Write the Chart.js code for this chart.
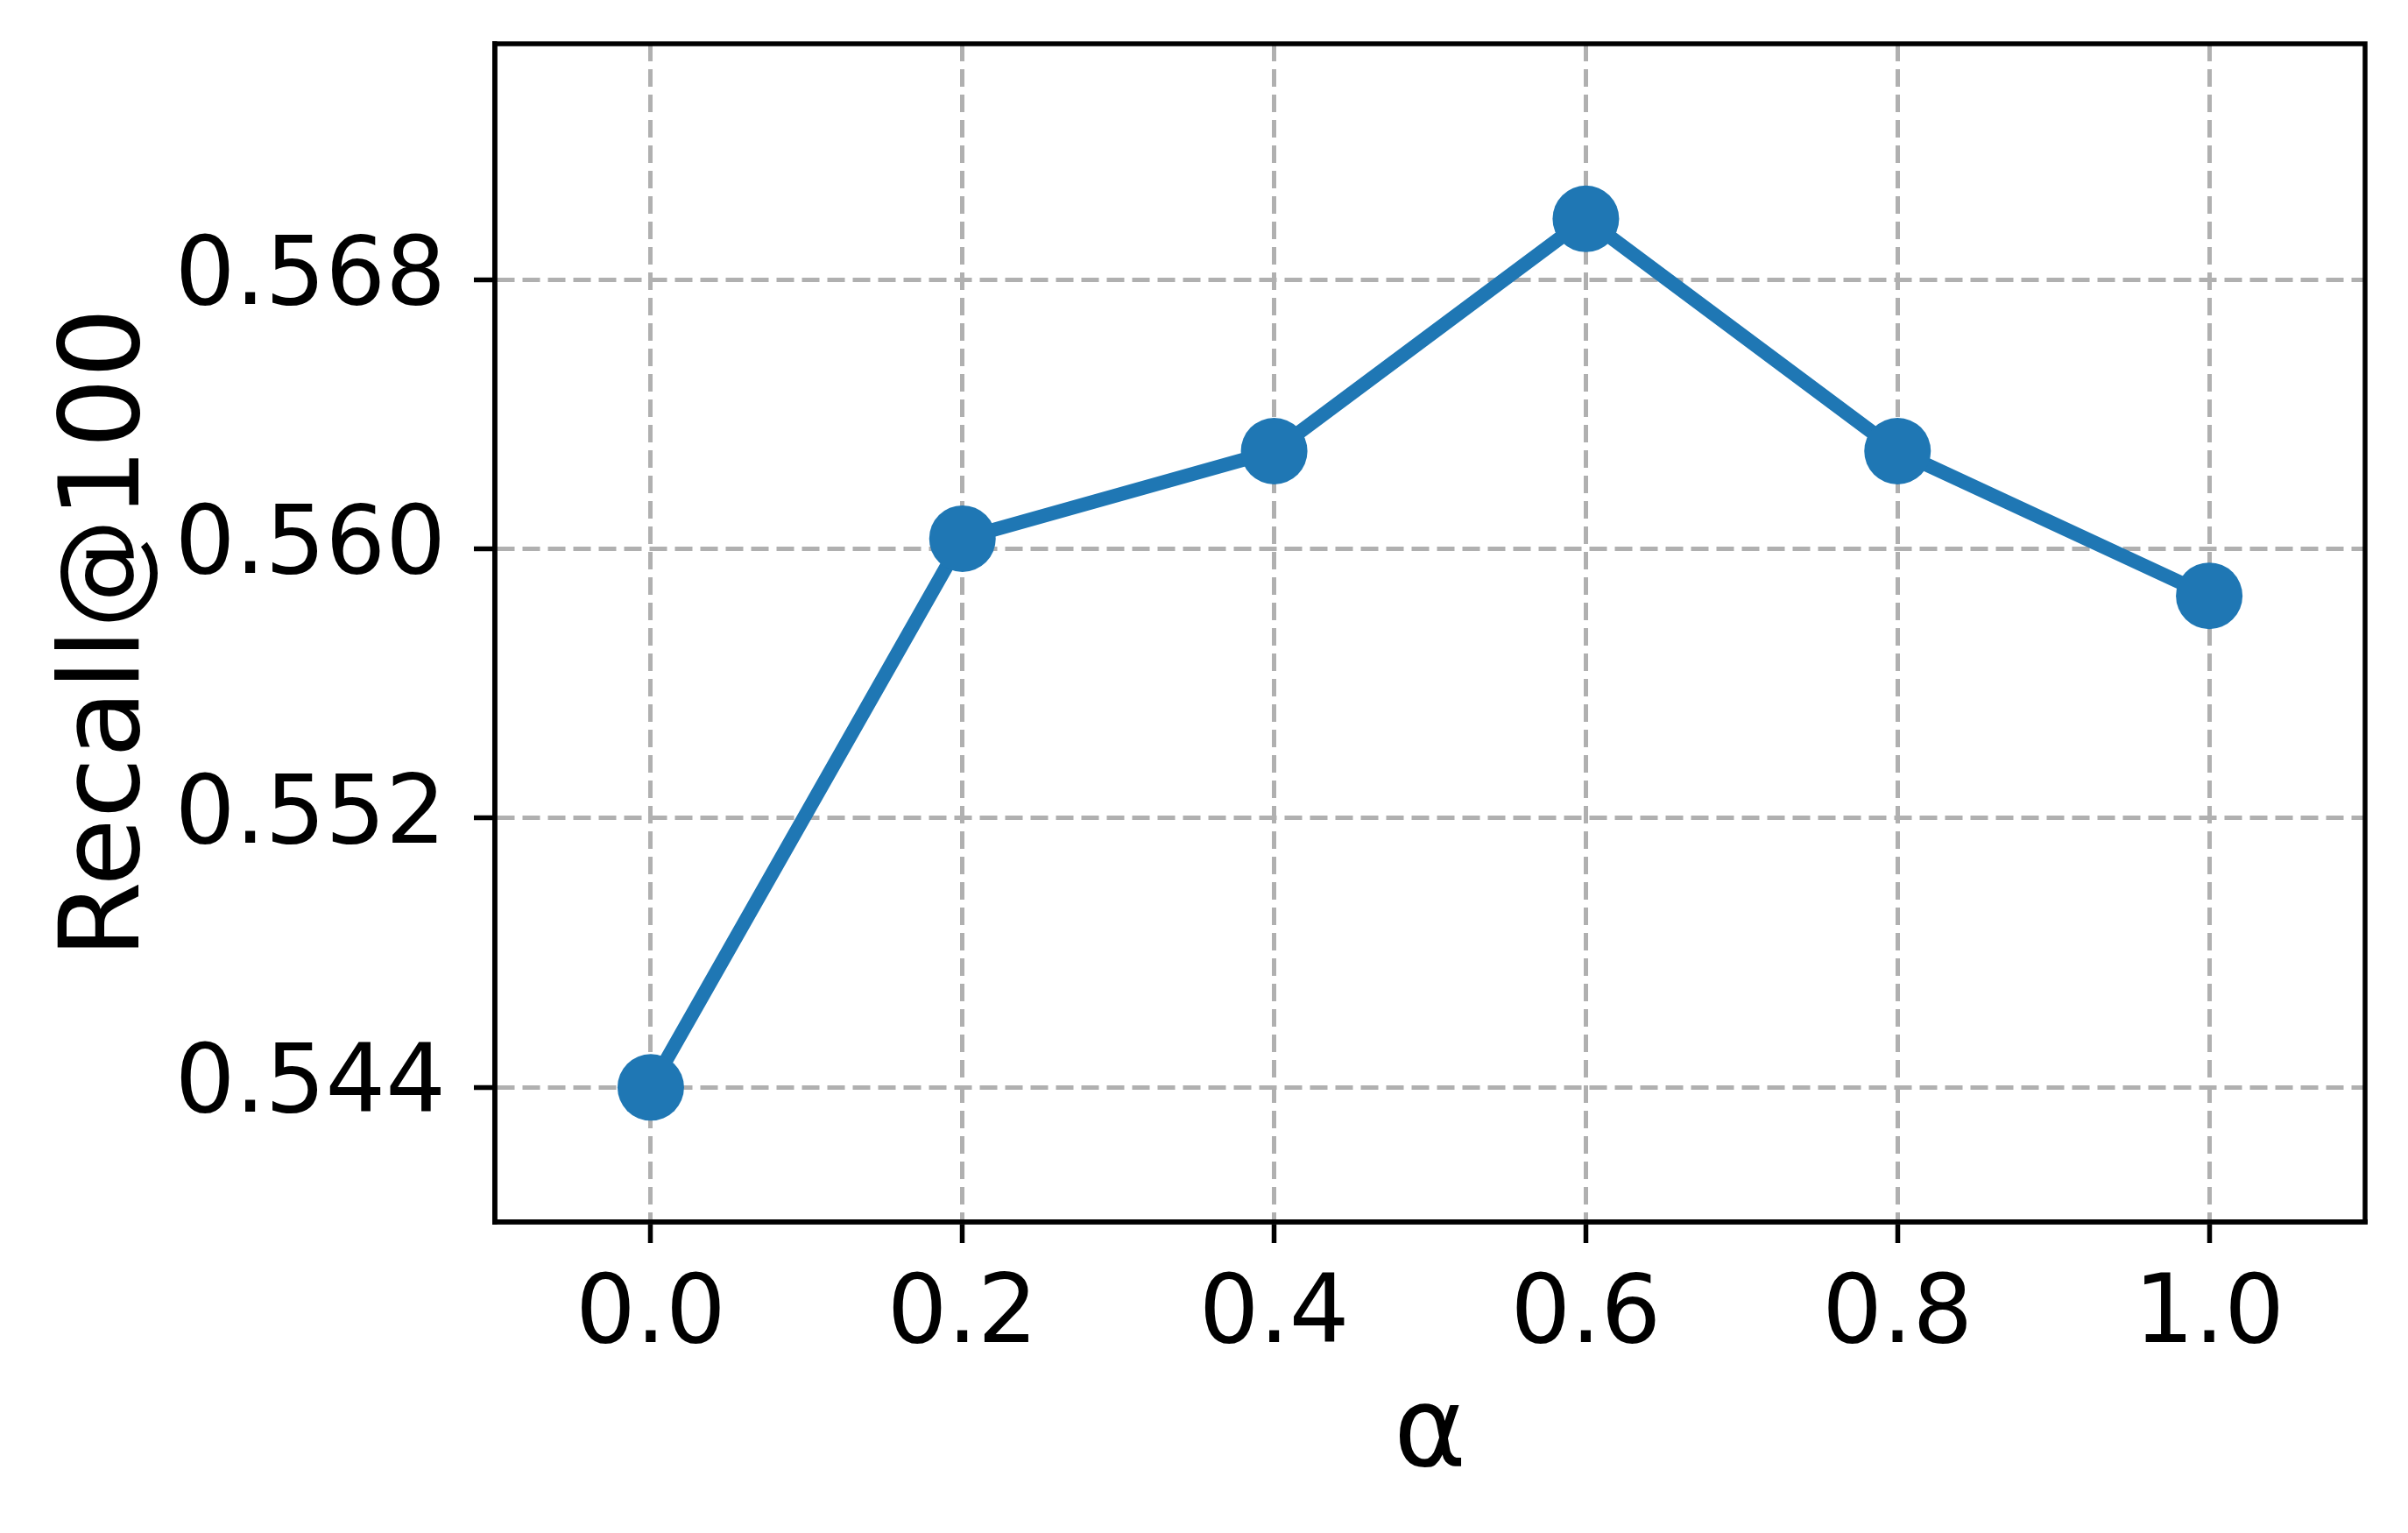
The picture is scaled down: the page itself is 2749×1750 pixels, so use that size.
<!DOCTYPE html>
<html>
<head>
<meta charset="utf-8">
<script src="https://cdn.jsdelivr.net/npm/chart.js@4/dist/chart.umd.min.js"></script>
<style>
  html, body { margin: 0; padding: 0; background: #fff; }
  #wrap { width: 2749px; height: 1750px; }
</style>
</head>
<body>
<div id="wrap"><canvas id="js-lineChart" width="2749" height="1750"></canvas></div>
<script>
const alphaValues = [0.0, 0.2, 0.4, 0.6, 0.8, 1.0];
const recallValues = [0.5440, 0.5603, 0.5629, 0.5698, 0.5629, 0.5586];
const xTicks = [0.0, 0.2, 0.4, 0.6, 0.8, 1.0];
const yTicks = [0.544, 0.552, 0.560, 0.568];

const lineColor = '#1f77b4';
const gridColor = '#b0b0b0';
const fontFamily = '"DejaVu Sans", sans-serif';

// top and right spines, matplotlib style box
const framePlugin = {
    id: 'frame',
    afterDraw(chart) {
        const { ctx, chartArea } = chart;
        ctx.save();
        ctx.strokeStyle = '#000';
        ctx.lineWidth = 5.5;
        ctx.strokeRect(chartArea.left, chartArea.top, chartArea.right - chartArea.left, chartArea.bottom - chartArea.top);
        ctx.restore();
    }
};

const gridOptions = {
    color: gridColor,
    lineWidth: 5,
    tickLength: 24,
    tickColor: '#000',
    tickWidth: 5.5,
    tickBorderDash: []
};

const borderOptions = { color: '#000', width: 5.5, dash: [20, 9] };

const chartConfig = {
    type: 'line',
    data: {
        datasets: [{
            data: alphaValues.map((a, i) => ({ x: a, y: recallValues[i] })),
            borderColor: lineColor,
            backgroundColor: lineColor,
            borderWidth: 16,
            pointRadius: 38,
            pointHoverRadius: 38,
            pointBorderWidth: 0,
            tension: 0
        }]
    },
    options: {
        responsive: false,
        animation: false,
        devicePixelRatio: 1,
        layout: { padding: { top: 50, right: 49, left: 0, bottom: 0 } },
        plugins: { legend: { display: false }, tooltip: { enabled: false } },
        scales: {
            x: {
                type: 'linear',
                min: -0.1,
                max: 1.1,
                grid: gridOptions,
                border: borderOptions,
                ticks: {
                    color: '#000',
                    padding: 20,
                    font: { family: fontFamily, size: 108 },
                    callback: v => v.toFixed(1)
                },
                title: {
                    display: true,
                    text: 'α',
                    color: '#000',
                    font: { family: fontFamily, size: 126 },
                    padding: { top: 0, bottom: 34 }
                },
                afterBuildTicks: s => { s.ticks = xTicks.map(v => ({ value: v })); },
                afterFit: s => {
                    s.height = 355;
                    s.paddingLeft = 0;
                    s.paddingRight = 0;
                }
            },
            y: {
                type: 'linear',
                min: 0.540,
                max: 0.575,
                grid: gridOptions,
                border: borderOptions,
                ticks: {
                    color: '#000',
                    padding: 32,
                    font: { family: fontFamily, size: 108 },
                    callback: v => v.toFixed(3)
                },
                title: {
                    display: true,
                    text: 'Recall@100',
                    color: '#000',
                    font: { family: fontFamily, size: 126 },
                    padding: { top: 50, bottom: 0 }
                },
                afterBuildTicks: s => { s.ticks = yTicks.map(v => ({ value: v })); },
                afterFit: s => {
                    s.width = 565;
                    s.paddingTop = 0;
                    s.paddingBottom = 0;
                }
            }
        }
    },
    plugins: [framePlugin]
};

const lineChart = new Chart(document.getElementById('js-lineChart'), chartConfig);
</script>
</body>
</html>
